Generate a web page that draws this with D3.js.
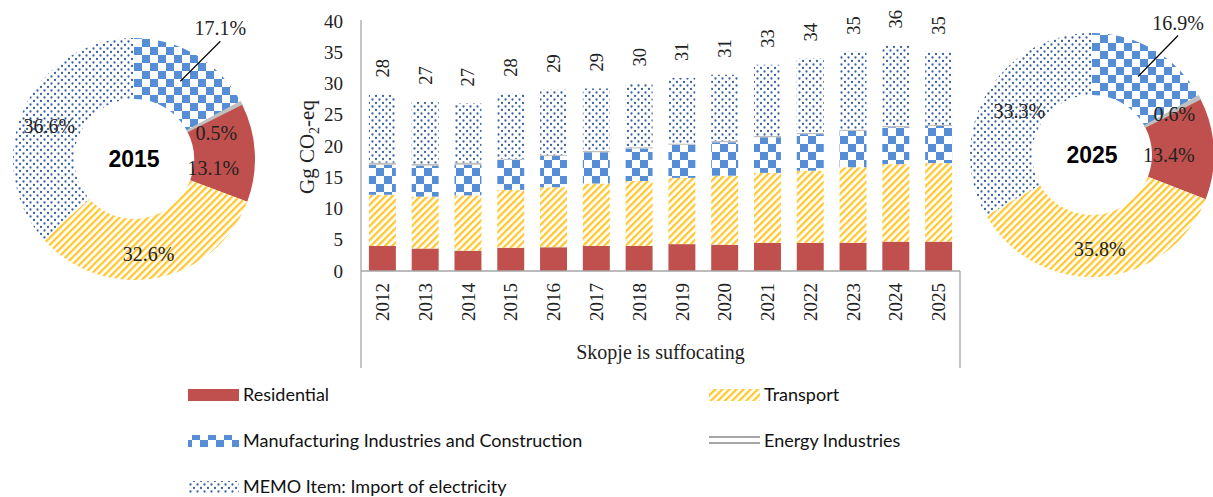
<!DOCTYPE html>
<html><head><meta charset="utf-8">
<script src="https://cdn.jsdelivr.net/npm/d3@7"></script>
<style>body{margin:0;background:#fff}svg{display:block}</style>
</head><body>
<script>
// ---------------- DATA ----------------
const years = [2012,2013,2014,2015,2016,2017,2018,2019,2020,2021,2022,2023,2024,2025];
const residential   = [4.0,3.6,3.25,3.72,3.8,4.0,4.0,4.3,4.2,4.5,4.5,4.5,4.7,4.70];
const transport     = [8.2,8.3,8.85,9.26,9.6,10.0,10.4,10.6,11.05,11.2,11.55,12.1,12.4,12.57];
const manufacturing = [4.8,4.95,4.9,4.86,5.0,5.0,5.2,5.3,5.35,5.7,5.85,5.8,5.9,5.93];
const energy        = [0.35,0.3,0.35,0.14,0.15,0.2,0.2,0.2,0.2,0.2,0.2,0.2,0.2,0.21];
const memo          = [10.9,9.95,9.45,10.39,10.45,10.0,10.2,10.5,10.6,11.4,11.9,12.5,12.9,11.69];
const yTicks = [0,5,10,15,20,25,30,35,40];
const seriesNames = ["Residential","Transport","Manufacturing Industries and Construction","Energy Industries","MEMO Item: Import of electricity"];
// donut shares (order: manufacturing, energy, residential, transport, memo)
const donutOrder = ["Manufacturing Industries and Construction","Energy Industries","Residential","Transport","MEMO Item: Import of electricity"];
const share2015 = [17.1,0.5,13.1,32.6,36.6];
const share2025 = [16.9,0.6,13.4,35.8,33.3];
const xAxisTitle = "Skopje is suffocating";

// ---------------- SETUP ----------------
const W = 1213, H = 497;
const svg = d3.select("body").append("svg").attr("width", W).attr("height", H);
const defs = svg.append("defs");

// patterns
const pT = defs.append("pattern").attr("id","pTransport").attr("patternUnits","userSpaceOnUse")
  .attr("width",5).attr("height",5).attr("patternTransform","rotate(45)");
pT.append("rect").attr("width",5).attr("height",5).attr("fill","#fff");
pT.append("rect").attr("width",2.3).attr("height",5).attr("fill","#FFC830");

const pM = defs.append("pattern").attr("id","pManuf").attr("patternUnits","userSpaceOnUse")
  .attr("width",16).attr("height",16);
pM.append("rect").attr("width",16).attr("height",16).attr("fill","#fff");
pM.append("rect").attr("width",8).attr("height",8).attr("fill","#558ED5");
pM.append("rect").attr("x",8).attr("y",8).attr("width",8).attr("height",8).attr("fill","#558ED5");

const pD = defs.append("pattern").attr("id","pMemo").attr("patternUnits","userSpaceOnUse")
  .attr("width",7).attr("height",7);
pD.append("rect").attr("width",7).attr("height",7).attr("fill","#fff");
pD.append("circle").attr("cx",1.5).attr("cy",1.5).attr("r",1.15).attr("fill","#3A62A0");
pD.append("circle").attr("cx",5).attr("cy",5).attr("r",1.15).attr("fill","#3A62A0");

const fills = {
  "Residential": "#C0504D",
  "Transport": "url(#pTransport)",
  "Manufacturing Industries and Construction": "url(#pManuf)",
  "Energy Industries": "#BFBFBF",
  "MEMO Item: Import of electricity": "url(#pMemo)"
};

// ---------------- BAR CHART ----------------
const plot = {left: 361, right: 960, top: 21, bottom: 271};
const x = d3.scaleBand().domain(years).range([plot.left, plot.right]).paddingInner(0.37).paddingOuter(0.185);
const y = d3.scaleLinear().domain([0,40]).range([plot.bottom, plot.top]);

const rows = years.map((yr,i)=>({year:yr,
  "Residential":residential[i], "Transport":transport[i],
  "Manufacturing Industries and Construction":manufacturing[i],
  "Energy Industries":energy[i], "MEMO Item: Import of electricity":memo[i]}));
const stack = d3.stack().keys(seriesNames)(rows);

const serif = "'Liberation Serif','Times New Roman',serif";
const sans = "Lato,'Liberation Sans',sans-serif";

svg.append("g").selectAll("g").data(stack).join("g")
  .attr("fill", d => fills[d.key])
  .selectAll("rect").data(d=>d).join("rect")
  .attr("x", d=>x(d.data.year)).attr("width", x.bandwidth())
  .attr("y", d=>y(d[1])).attr("height", d=>y(d[0])-y(d[1]));

// totals
const totals = rows.map(r => d3.sum(seriesNames, k => r[k]));
svg.append("g").selectAll("text").data(years).join("text")
  .attr("transform",(d,i)=>`translate(${x(d)+x.bandwidth()/2},${y(totals[i])-17}) rotate(-90)`)
  .attr("dy","0.35em").attr("text-anchor","start")
  .attr("font-family",serif).attr("font-size",18.5).attr("fill","#222")
  .text((d,i)=>d3.format(".0f")(totals[i]));

// y axis
const yAx = svg.append("g").attr("transform",`translate(${plot.left},0)`)
  .call(d3.axisLeft(y).tickValues(yTicks).tickSize(0).tickPadding(18));
yAx.select(".domain").remove();
yAx.selectAll("text").attr("font-family",serif).attr("font-size",19).attr("fill","#222");

// frame lines
const lineCol = "#A6A6A6";
svg.append("line").attr("x1",plot.left).attr("x2",plot.left).attr("y1",plot.top-1).attr("y2",368).attr("stroke",lineCol).attr("stroke-width",1.3);
svg.append("line").attr("x1",plot.right).attr("x2",plot.right).attr("y1",plot.bottom).attr("y2",368).attr("stroke",lineCol).attr("stroke-width",1.3);
svg.append("line").attr("x1",plot.left).attr("x2",plot.right).attr("y1",plot.bottom).attr("y2",plot.bottom).attr("stroke",lineCol).attr("stroke-width",1.3);

// year labels
svg.append("g").selectAll("text").data(years).join("text")
  .attr("transform",d=>`translate(${x(d)+x.bandwidth()/2},283) rotate(-90)`)
  .attr("dy","0.35em").attr("text-anchor","end")
  .attr("font-family",serif).attr("font-size",19).attr("fill","#222")
  .text(d=>d);

// x title
svg.append("text").attr("x",(plot.left+plot.right)/2).attr("y",359).attr("text-anchor","middle")
  .attr("font-family",serif).attr("font-size",20).attr("fill","#222").text(xAxisTitle);

// y title
const yt = svg.append("text").attr("transform","translate(314,147) rotate(-90)").attr("text-anchor","middle")
  .attr("font-family",serif).attr("font-size",21).attr("fill","#222");
yt.append("tspan").text("Gg CO");
yt.append("tspan").attr("font-size",14).attr("dy",5).text("2");
yt.append("tspan").attr("dy",-5).text("-eq");

// ---------------- DONUTS ----------------
function donut(cx, cy, rOut, rIn, shares, title, nudges, leaderEnd){
  const g = svg.append("g").attr("transform",`translate(${cx},${cy})`);
  const data = donutOrder.map((k,i)=>({key:k, value:shares[i]}));
  const arcs = d3.pie().sort(null).value(d=>d.value)(data);
  const arc = d3.arc().innerRadius(rIn).outerRadius(rOut);
  g.selectAll("path").data(arcs).join("path")
    .attr("d",arc).attr("fill",d=>fills[d.data.key])
    .attr("stroke",d=>d.data.key==="Energy Industries"?"#BFBFBF":"none").attr("stroke-width",1);
  const lr = (rOut+rIn)/2;
  arcs.forEach((a,i)=>{
    const ang = (a.startAngle+a.endAngle)/2;
    let px = lr*Math.sin(ang), py = -lr*Math.cos(ang);
    if (a.data.key==="Manufacturing Industries and Construction"){
      g.append("line").attr("x1",px).attr("y1",py).attr("x2",px+leaderEnd[0]).attr("y2",py+leaderEnd[1])
        .attr("stroke","#000").attr("stroke-width",1.2);
      px = px+leaderEnd[0]; py = py+leaderEnd[1]-13;
    } else {
      const n = nudges[a.data.key] || [0,0];
      px += n[0]; py += n[1];
    }
    g.append("text").attr("x",px).attr("y",py).attr("dy","0.35em").attr("text-anchor","middle")
      .attr("font-family",serif).attr("font-size",20).attr("fill","#222")
      .text(d3.format(".1f")(a.data.value)+"%");
  });
  g.append("text").attr("x",0).attr("y",0).attr("dy","0.36em").attr("text-anchor","middle")
    .attr("font-family","'Liberation Sans',Arial,sans-serif").attr("font-weight","bold")
    .attr("font-size",23).attr("fill","#000").text(title);
}
donut(134, 159, 121, 60, share2015, "2015",
  {"Energy Industries":[2,16], "Residential":[-11,14], "Transport":[-2,6], "MEMO Item: Import of electricity":[-2,4]}, [40,-40]);
donut(1092, 155, 122, 60, share2025, "2025",
  {"Energy Industries":[2,2], "Residential":[-14,5], "Transport":[1,3], "MEMO Item: Import of electricity":[6,2]}, [40,-41]);

// ---------------- LEGEND ----------------
const legendItems = [
  {key:"Residential", x:188, y:395},
  {key:"Transport", x:709, y:395},
  {key:"Manufacturing Industries and Construction", x:188, y:441},
  {key:"Energy Industries", x:709, y:441},
  {key:"MEMO Item: Import of electricity", x:188, y:487}
];
const lg = svg.append("g");
legendItems.forEach(it=>{
  if (it.key==="Energy Industries"){
    lg.append("rect").attr("x",it.x).attr("y",it.y-5).attr("width",51).attr("height",2).attr("fill","#A6A6A6");
    lg.append("rect").attr("x",it.x).attr("y",it.y+1).attr("width",51).attr("height",2).attr("fill","#A6A6A6");
  } else {
    lg.append("rect").attr("x",it.x).attr("y",it.y-6).attr("width",51).attr("height",12).attr("fill",fills[it.key]);
  }
  lg.append("text").attr("x",it.x+55).attr("y",it.y).attr("dy","0.35em")
    .attr("font-family",sans).attr("font-size",18).attr("fill","#111").text(it.key);
});
</script>
</body></html>
